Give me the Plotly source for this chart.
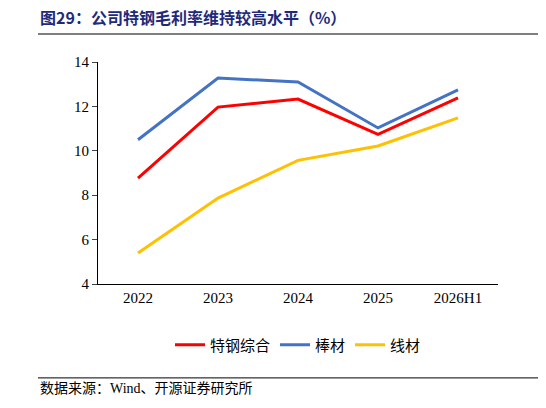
import plotly.graph_objects as go

categories = ["2022", "2023", "2024", "2025", "2026H1"]
special_steel = [8.77, 11.97, 12.33, 10.74, 12.38]
bar_steel = [10.50, 13.28, 13.10, 11.03, 12.74]
wire_steel = [5.40, 7.87, 9.57, 10.22, 11.48]

fig = go.Figure()
for name, vals, col in [("特钢综合", special_steel, "#FF0000"),
                        ("棒材", bar_steel, "#4472C4"),
                        ("线材", wire_steel, "#FFC000")]:
    fig.add_trace(go.Scatter(x=categories, y=vals, name=name, mode="lines",
                             line=dict(color=col, width=3)))

fig.update_layout(
    width=546, height=408, plot_bgcolor="white", paper_bgcolor="white",
    margin=dict(l=90, r=56, t=54, b=132, autoexpand=False),
    font=dict(family="Liberation Serif, Noto Sans CJK SC", size=15, color="black"),
    showlegend=True,
    legend=dict(orientation="h", x=0.5, xanchor="center", y=-0.2, yanchor="top",
                font=dict(family="Liberation Serif, Noto Sans CJK SC", size=15), traceorder="normal"),
    xaxis=dict(showline=True, linecolor="black", ticks="", showgrid=False,
               range=[-0.5, 4.5]),
    yaxis=dict(range=[4, 14], dtick=2, showline=True, linecolor="black",
               ticks="outside", ticklen=5, showgrid=False),
)
fig.add_annotation(text="<b>图29：公司特钢毛利率维持较高水平（%）</b>", xref="paper", yref="paper",
                   x=-0.15, y=1.14, xanchor="left", yanchor="bottom", showarrow=False,
                   font=dict(family="Noto Sans CJK SC", size=16, color="#1F2A7A"))
fig.add_shape(type="line", xref="paper", yref="paper", x0=-0.15, x1=1.14, y0=1.126, y1=1.126,
              line=dict(color="#555555", width=1.5))
fig.add_shape(type="line", xref="paper", yref="paper", x0=-0.15, x1=1.14, y0=-0.423, y1=-0.423,
              line=dict(color="black", width=1))
fig.add_annotation(text="数据来源：Wind、开源证券研究所", xref="paper", yref="paper",
                   x=-0.15, y=-0.43, xanchor="left", yanchor="top", showarrow=False,
                   font=dict(family="Liberation Serif, Noto Sans CJK SC", size=14, color="black"))
fig.write_html("out.html")
